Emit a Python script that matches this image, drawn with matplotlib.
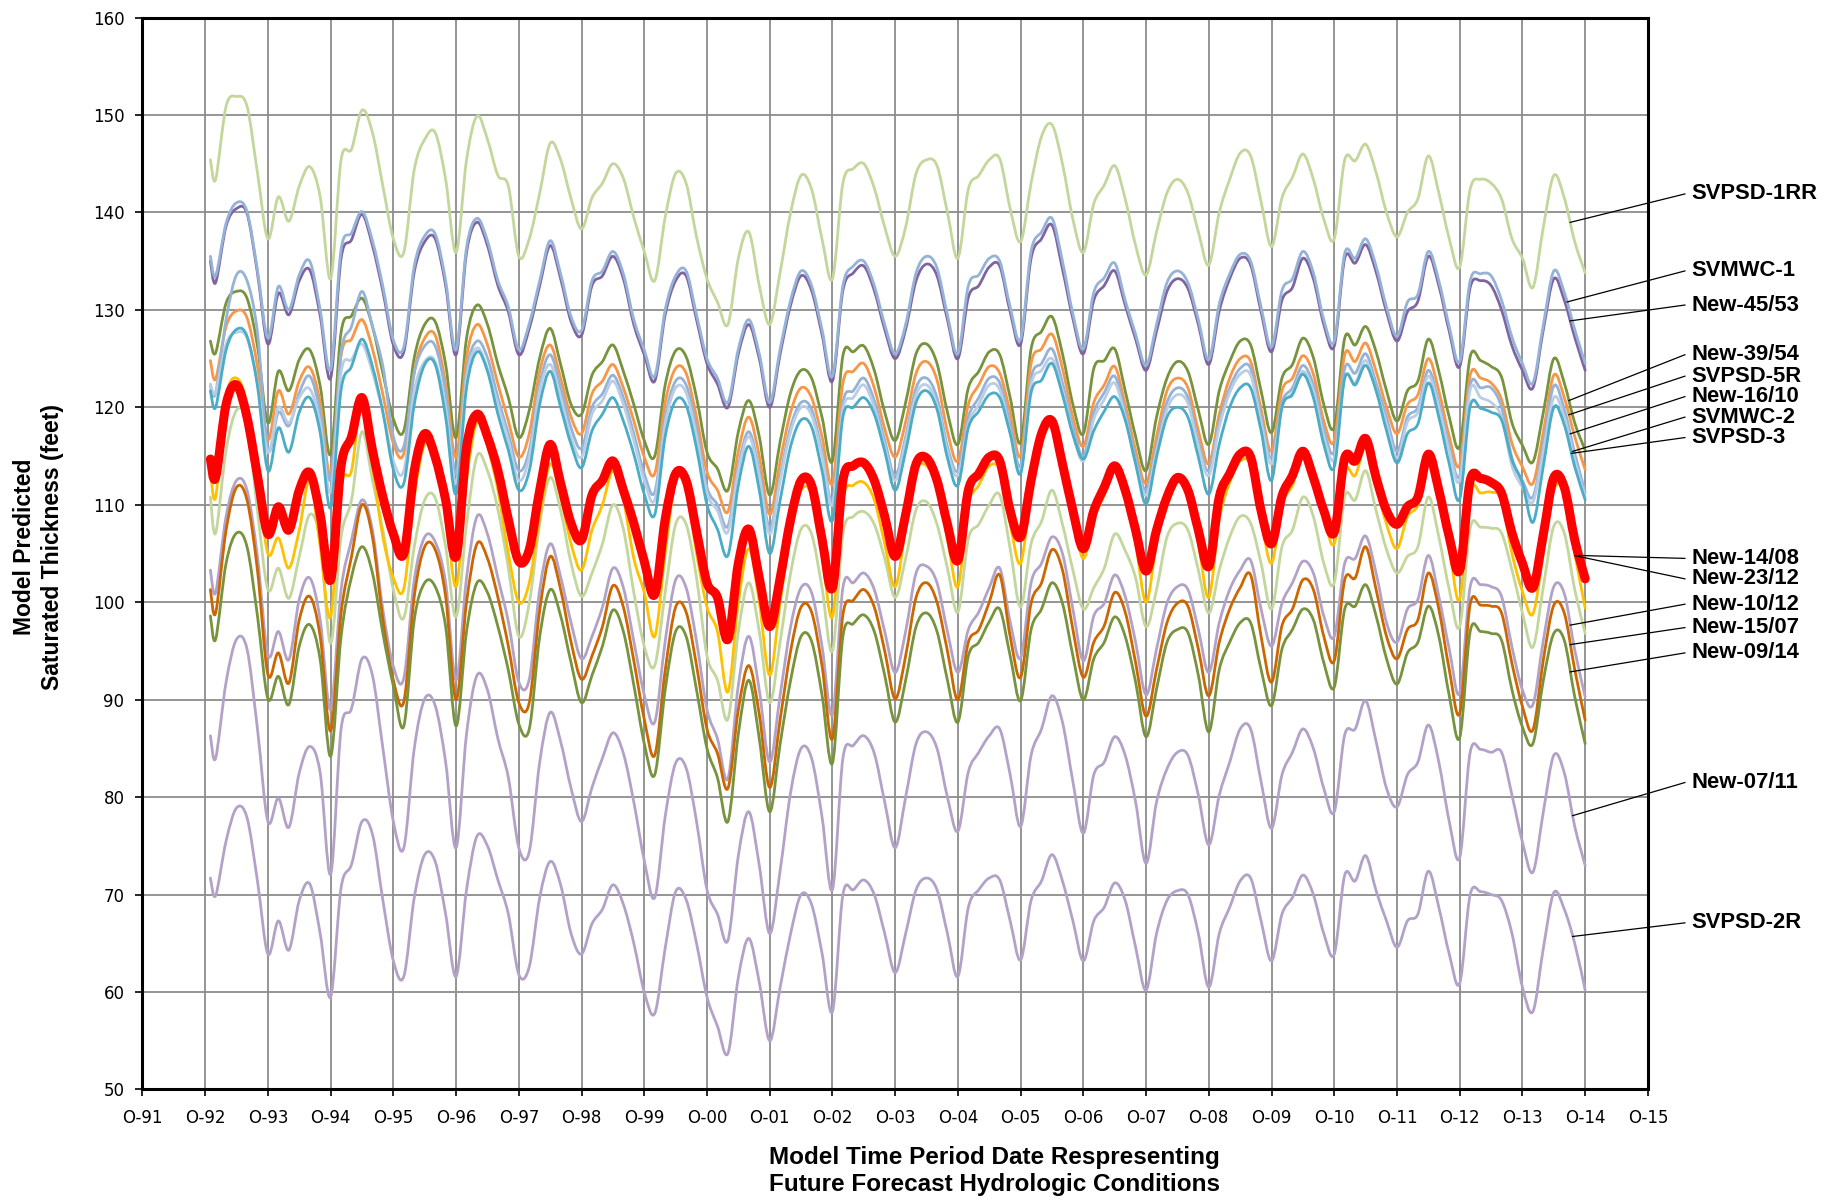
import numpy as np
import matplotlib
matplotlib.use("Agg")
import matplotlib.pyplot as plt
from matplotlib.path import Path
from matplotlib.patches import PathPatch

plt.rcParams['font.family'] = ['Liberation Sans', 'DejaVu Sans']

# Bimonthly model output (Oct, Dec, Feb, Apr, Jun, Aug of each water year 1992-2013, then Oct-14)
svpsd_1rr = [
    145.4, 143.4, 150.9, 151.9, 150.9, 144.1,
    137.3, 141.6, 139.1, 142.7, 144.7, 141.6,
    133.2, 145.4, 146.5, 150.5, 148.2, 142.7,
    137.3, 135.9, 144.4, 147.5, 148.2, 143.4,
    135.9, 145.4, 149.9, 147.5, 143.8, 142.7,
    135.5, 137.3, 142.0, 147.1, 145.4, 141.4,
    138.3, 141.5, 143.0, 145.0, 143.5, 139.5,
    136.0, 133.0, 139.5, 144.0, 143.0, 137.5,
    133.2, 130.8, 128.5, 135.3, 138.0, 132.5,
    128.5, 133.9, 140.0, 143.8, 142.4, 137.3,
    133.2, 143.0, 144.5, 145.0, 142.5, 138.5,
    135.5, 138.5, 144.0, 145.4, 144.8, 140.0,
    135.3, 142.4, 143.8, 145.4, 145.5, 140.4,
    137.0, 143.0, 147.8, 149.0, 145.0, 139.3,
    135.9, 140.9, 142.8, 144.8, 141.4, 136.6,
    133.6, 138.0, 142.0, 143.4, 142.0, 138.0,
    134.6, 140.0, 143.4, 146.1, 145.8, 141.1,
    136.5, 141.5, 143.6, 146.0, 143.4, 139.3,
    137.3, 145.4, 145.3, 147.0, 144.1, 140.0,
    137.5, 140.0, 141.4, 145.8, 142.0, 137.3,
    134.4, 142.4, 143.4, 143.0, 141.4, 137.3,
    135.3, 132.3, 138.5, 143.8, 141.5, 137.0,
    133.8]

new_45_53 = [
    135.0, 132.8, 138.6, 140.4, 139.9, 133.8,
    126.5, 131.7, 129.5, 133.0, 134.1, 129.4,
    123.0, 135.3, 137.2, 139.8, 136.6, 131.9,
    126.4, 125.7, 133.9, 137.0, 137.3, 132.5,
    125.4, 135.9, 139.0, 136.6, 132.5, 129.8,
    125.4, 128.1, 132.5, 136.6, 133.2, 128.8,
    127.4, 132.5, 133.5, 135.5, 133.2, 128.5,
    125.4, 122.7, 129.5, 133.0, 133.5, 129.0,
    124.5, 122.4, 120.0, 125.5, 128.5, 125.0,
    120.0, 125.5, 130.5, 133.5, 132.0, 127.5,
    122.7, 132.0, 133.8, 134.5, 132.0, 128.0,
    125.0, 128.0, 133.0, 134.7, 133.5, 129.0,
    125.0, 131.3, 132.5, 134.4, 134.5, 129.8,
    126.5, 135.3, 137.3, 138.7, 134.2, 129.1,
    125.5, 131.0, 132.5, 134.0, 130.5, 127.0,
    123.8, 127.8, 131.9, 133.2, 132.2, 128.5,
    124.4, 129.9, 133.2, 135.3, 134.6, 129.8,
    125.7, 131.0, 132.3, 135.3, 133.2, 128.5,
    126.3, 135.3, 134.8, 136.7, 133.9, 129.8,
    126.8, 129.8, 130.9, 135.5, 132.5, 127.8,
    124.2, 132.3, 133.0, 132.5, 130.0, 126.3,
    123.8, 122.0, 128.0, 133.2, 131.0, 127.2,
    123.8]

svmwc_1 = [
    135.5, 133.5, 138.9, 141.0, 140.1, 134.1,
    127.1, 132.4, 130.0, 133.6, 135.0, 130.0,
    123.9, 136.2, 137.9, 140.1, 137.1, 132.4,
    126.9, 126.2, 134.5, 137.6, 137.8, 133.0,
    125.9, 136.4, 139.4, 137.1, 133.0, 130.3,
    125.9, 128.6, 133.0, 137.1, 133.7, 129.3,
    127.9, 133.0, 134.0, 136.0, 133.7, 129.0,
    125.9, 123.2, 130.0, 133.5, 134.0, 129.5,
    125.0, 123.0, 120.5, 126.0, 129.0, 125.5,
    120.5, 126.0, 131.0, 134.0, 132.5, 128.0,
    123.2, 132.5, 134.5, 135.0, 132.5, 128.5,
    125.5, 128.5, 133.8, 135.5, 134.3, 129.5,
    125.5, 132.5, 133.6, 135.3, 135.0, 130.3,
    127.0, 136.0, 138.0, 139.4, 135.0, 129.6,
    126.0, 131.8, 133.3, 134.8, 131.0, 127.5,
    124.3, 128.5, 132.8, 134.0, 132.8, 129.0,
    124.9, 130.6, 133.7, 135.7, 135.0, 130.3,
    126.2, 132.0, 133.2, 136.0, 133.8, 129.0,
    126.8, 135.8, 135.3, 137.3, 134.5, 130.3,
    127.3, 130.8, 131.6, 136.0, 133.0, 128.3,
    124.7, 133.0, 133.7, 133.5, 131.0, 127.2,
    124.5, 122.5, 128.5, 134.0, 131.8, 128.0,
    124.5]

new_39_54 = [
    126.8, 125.6, 130.7, 131.9, 131.2, 126.3,
    118.4, 123.7, 121.7, 124.9, 125.9, 122.2,
    115.2, 127.7, 129.4, 131.2, 128.3, 123.5,
    118.8, 117.6, 125.1, 128.5, 128.8, 124.4,
    116.9, 127.1, 130.5, 128.5, 124.4, 121.0,
    116.9, 119.7, 125.1, 128.1, 124.4, 120.3,
    119.3, 123.3, 124.7, 126.4, 123.7, 120.3,
    116.6, 115.0, 122.3, 125.8, 125.2, 121.0,
    115.4, 113.7, 111.5, 117.5, 120.7, 117.0,
    111.0, 116.5, 121.5, 123.8, 123.0, 119.0,
    114.5, 125.3, 125.7, 126.3, 123.8, 119.5,
    116.6, 120.5, 125.5, 126.5, 124.5, 119.5,
    116.2, 122.0, 123.7, 125.7, 125.4, 121.0,
    116.4, 126.0, 127.8, 129.3, 125.5, 120.3,
    117.3, 124.0, 124.8, 126.0, 121.7, 117.0,
    113.5, 119.0, 123.0, 124.7, 123.7, 119.7,
    116.2, 121.7, 124.7, 126.8, 126.4, 121.7,
    117.4, 123.0, 124.4, 127.1, 125.1, 120.3,
    118.0, 127.1, 126.4, 128.3, 125.7, 121.7,
    118.6, 121.7, 122.7, 127.0, 123.7, 119.0,
    116.0, 125.2, 124.8, 124.2, 123.1, 118.4,
    116.1, 114.4, 119.5, 125.0, 122.5, 118.4,
    115.6]

svpsd_5r = [
    124.8, 122.9, 128.3, 129.9, 129.2, 124.2,
    116.7, 121.7, 119.3, 122.7, 124.1, 120.5,
    113.1, 125.3, 127.0, 129.0, 126.0, 121.3,
    116.3, 115.3, 123.7, 127.1, 127.4, 122.4,
    114.9, 125.1, 128.5, 126.4, 122.4, 118.6,
    114.9, 117.3, 123.7, 126.4, 123.0, 119.0,
    117.3, 121.4, 122.7, 124.4, 122.0, 118.6,
    114.9, 113.2, 120.5, 124.0, 123.5, 119.0,
    113.4, 111.5, 109.3, 115.5, 119.0, 115.0,
    109.0, 114.5, 119.5, 122.0, 121.0, 117.0,
    112.2, 122.5, 123.7, 124.5, 122.0, 117.8,
    114.9, 118.5, 123.5, 124.7, 122.8, 117.5,
    114.5, 120.3, 122.3, 124.2, 123.5, 119.5,
    115.0, 124.5, 126.0, 127.5, 124.0, 119.0,
    116.0, 120.5, 122.3, 124.2, 120.3, 115.6,
    112.2, 117.0, 121.7, 123.0, 122.0, 117.6,
    114.2, 119.3, 123.0, 125.0, 124.7, 119.8,
    115.5, 121.7, 123.0, 125.3, 123.4, 118.6,
    116.6, 125.4, 124.7, 126.6, 123.7, 120.0,
    117.3, 120.3, 121.3, 125.0, 121.7, 117.0,
    114.1, 123.3, 123.0, 122.5, 120.8, 116.3,
    113.9, 112.2, 117.5, 123.3, 121.0, 117.0,
    113.6]

new_16_10 = [
    122.2, 121.5, 129.0, 133.6, 133.0, 127.7,
    115.7, 119.5, 118.1, 121.5, 123.2, 119.5,
    112.6, 125.6, 128.3, 131.9, 128.3, 124.2,
    117.0, 116.0, 123.5, 126.3, 126.3, 121.5,
    113.2, 123.7, 126.8, 125.1, 121.0, 117.3,
    113.5, 115.6, 122.4, 125.4, 122.0, 117.9,
    115.8, 120.0, 121.4, 123.3, 121.0, 117.3,
    113.2, 111.3, 119.0, 122.7, 122.3, 117.8,
    111.8, 110.0, 107.8, 114.0, 117.5, 113.5,
    107.6, 113.0, 118.0, 120.5, 119.8, 115.5,
    110.5, 120.5, 121.7, 123.0, 120.7, 116.6,
    113.0, 117.0, 122.0, 123.0, 121.0, 116.0,
    113.5, 119.0, 121.0, 123.0, 122.5, 118.3,
    114.0, 123.0, 124.5, 126.0, 122.5, 118.0,
    115.0, 119.5, 121.5, 123.2, 119.5, 114.8,
    111.5, 116.0, 120.5, 122.0, 121.0, 116.5,
    113.5, 118.5, 122.0, 124.0, 124.0, 119.0,
    114.8, 120.5, 122.0, 124.3, 122.3, 117.7,
    115.5, 124.0, 123.5, 125.5, 122.5, 119.0,
    115.5, 119.0, 120.0, 123.8, 120.5, 116.0,
    113.0, 122.3, 122.0, 122.0, 120.0, 114.8,
    112.5, 110.8, 116.3, 122.2, 119.8, 115.3,
    111.3]

svmwc_2 = [
    122.4, 121.5, 126.5, 127.7, 127.1, 122.5,
    115.4, 120.0, 118.4, 121.0, 121.9, 118.4,
    111.3, 123.6, 124.9, 126.5, 123.6, 119.5,
    114.5, 113.5, 121.7, 124.7, 124.7, 120.0,
    112.2, 123.0, 126.1, 124.0, 120.3, 116.6,
    112.5, 114.9, 121.7, 124.4, 121.0, 116.9,
    114.9, 119.3, 120.7, 122.7, 120.3, 116.6,
    112.5, 110.5, 118.3, 122.0, 121.5, 117.0,
    111.2, 109.4, 107.2, 113.5, 117.0, 113.0,
    107.0, 112.5, 117.5, 120.0, 119.2, 115.0,
    110.0, 119.8, 121.0, 122.3, 120.0, 116.0,
    112.5, 116.5, 121.3, 122.3, 120.3, 115.5,
    113.0, 118.3, 120.3, 122.3, 121.8, 117.5,
    113.5, 122.3, 123.8, 125.0, 121.8, 117.3,
    114.5, 118.8, 120.8, 122.5, 119.0, 114.3,
    111.0, 115.5, 119.8, 121.3, 120.4, 116.0,
    113.0, 118.0, 121.5, 123.4, 123.3, 118.5,
    114.2, 120.0, 121.5, 123.7, 121.7, 117.0,
    114.8, 123.0, 122.5, 124.8, 121.8, 118.3,
    114.8, 118.5, 119.5, 123.2, 120.0, 115.5,
    112.5, 121.8, 121.0, 120.5, 119.0, 114.0,
    111.8, 110.3, 115.5, 121.0, 119.0, 114.6,
    110.8]

svpsd_3 = [
    121.7, 120.0, 125.9, 128.0, 127.3, 122.2,
    113.5, 117.9, 115.4, 119.5, 121.0, 117.4,
    109.7, 121.8, 124.2, 127.0, 124.2, 119.5,
    113.6, 112.2, 120.3, 124.4, 124.4, 119.0,
    111.1, 122.0, 125.7, 123.7, 119.3, 115.6,
    111.5, 113.5, 120.3, 123.7, 120.0, 116.2,
    113.8, 117.6, 119.3, 121.0, 118.6, 115.2,
    111.1, 109.0, 117.0, 120.7, 120.2, 115.8,
    110.0, 107.5, 104.8, 112.0, 116.0, 111.5,
    105.0, 110.5, 116.0, 118.7, 118.0, 113.5,
    108.4, 119.0, 120.0, 121.0, 119.3, 115.5,
    111.5, 115.5, 120.5, 121.7, 119.8, 114.8,
    112.0, 117.9, 119.6, 121.3, 121.0, 117.3,
    113.2, 121.5, 122.8, 124.5, 121.3, 117.2,
    114.7, 117.6, 119.6, 121.1, 118.7, 114.2,
    110.1, 114.9, 119.0, 120.0, 119.0, 114.9,
    111.1, 116.2, 120.0, 122.0, 122.0, 117.6,
    112.5, 120.0, 121.3, 123.4, 121.0, 116.2,
    113.9, 123.0, 122.3, 124.3, 121.7, 117.6,
    114.3, 117.3, 118.3, 122.5, 119.0, 114.2,
    110.6, 120.1, 119.9, 119.5, 118.7, 114.6,
    112.2, 108.2, 114.0, 120.0, 118.2, 113.9,
    110.5]

new_14_08 = [
    114.7, 112.8, 120.3, 122.3, 119.0, 113.0,
    107.0, 109.8, 107.4, 111.5, 113.3, 109.0,
    102.3, 114.0, 117.0, 121.0, 115.6, 110.8,
    107.0, 105.0, 113.5, 117.3, 114.9, 110.5,
    104.7, 115.9, 119.3, 117.0, 113.5, 108.5,
    104.2, 105.4, 111.5, 116.2, 112.2, 108.1,
    106.4, 111.0, 112.5, 114.5, 111.5, 108.1,
    104.2, 100.8, 108.5, 113.2, 112.5, 107.3,
    102.0, 100.5, 96.2, 104.0, 107.5, 102.5,
    97.5, 102.5, 108.5, 112.5, 112.0, 106.5,
    101.5, 112.5, 114.0, 114.3, 112.5, 108.8,
    104.7, 109.0, 114.2, 114.8, 112.5, 108.0,
    104.3, 111.5, 113.2, 114.9, 114.5, 109.4,
    106.7, 112.5, 117.3, 118.6, 114.2, 109.4,
    105.5, 109.4, 111.8, 114.0, 111.5, 107.4,
    103.2, 107.4, 110.8, 112.8, 111.5, 107.4,
    103.7, 110.8, 113.2, 115.2, 114.9, 109.4,
    106.0, 110.9, 113.0, 115.5, 112.8, 109.4,
    107.2, 114.8, 114.5, 116.8, 112.8, 109.4,
    108.0, 109.8, 110.8, 115.2, 111.5, 106.7,
    103.3, 112.5, 112.7, 112.3, 111.2, 107.1,
    104.0, 101.5, 107.0, 112.8, 111.8, 106.4,
    102.4]

new_23_12 = [
    113.5, 110.8, 121.0, 123.0, 120.3, 112.8,
    105.0, 106.6, 103.5, 107.4, 112.5, 105.7,
    98.5, 111.9, 113.5, 121.0, 114.0, 106.7,
    102.5, 101.4, 110.8, 116.2, 114.2, 109.5,
    101.6, 112.5, 118.5, 116.0, 111.5, 105.0,
    100.0, 102.0, 108.8, 114.2, 110.8, 106.0,
    103.3, 107.4, 110.0, 113.5, 110.5, 104.5,
    101.0, 96.5, 105.0, 112.5, 111.5, 105.0,
    99.5, 97.0, 90.8, 100.0, 105.5, 100.0,
    92.5, 100.0, 107.0, 111.5, 111.0, 105.0,
    98.5, 110.5, 112.0, 112.3, 110.5, 106.0,
    101.6, 107.5, 113.5, 114.0, 111.8, 106.5,
    101.6, 110.0, 112.0, 114.0, 113.5, 108.0,
    104.0, 111.5, 116.5, 118.0, 113.8, 108.8,
    104.5, 108.5, 111.0, 113.5, 110.8, 106.0,
    100.0, 106.0, 110.0, 112.3, 111.0, 106.0,
    100.5, 108.5, 112.3, 114.5, 114.0, 108.5,
    104.0, 110.0, 112.0, 115.0, 112.3, 108.8,
    106.0, 113.5, 113.0, 116.0, 112.0, 108.0,
    105.5, 108.8, 110.0, 114.5, 111.0, 105.5,
    100.3, 111.3, 111.2, 111.3, 110.5, 105.0,
    101.1, 98.8, 105.0, 111.5, 111.2, 105.0,
    99.4]

# unlabeled light-green well between New-23/12 and New-10/12
unlabeled_mid = [
    110.8, 107.1, 115.6, 119.7, 118.6, 109.4,
    101.3, 103.5, 100.4, 104.7, 109.0, 106.4,
    95.8, 106.7, 110.5, 117.5, 112.5, 107.4,
    101.3, 98.4, 105.7, 110.5, 110.7, 105.7,
    98.5, 108.0, 115.0, 113.5, 109.5, 103.5,
    96.5, 99.9, 108.1, 112.8, 109.4, 104.0,
    100.6, 103.0, 106.0, 110.0, 107.5, 101.0,
    95.5, 93.5, 101.0, 108.0, 108.0, 102.5,
    94.5, 92.0, 88.0, 97.0, 102.0, 97.0,
    89.7, 96.0, 103.0, 107.5, 107.0, 101.5,
    95.0, 107.0, 108.8, 109.3, 108.0, 104.5,
    100.5, 104.5, 109.5, 110.3, 108.0, 103.5,
    99.0, 106.5, 108.0, 110.0, 111.0, 105.5,
    99.5, 106.0, 108.3, 111.5, 108.0, 103.3,
    99.3, 101.5, 103.5, 107.0, 105.3, 102.5,
    97.5, 101.3, 106.7, 108.1, 107.4, 103.3,
    98.9, 103.3, 106.7, 108.8, 108.1, 104.0,
    99.3, 105.7, 107.4, 110.8, 108.8, 104.0,
    102.0, 110.8, 110.5, 113.5, 109.4, 105.4,
    103.0, 104.7, 105.7, 110.8, 106.7, 101.3,
    97.5, 107.6, 107.7, 107.6, 107.1, 103.3,
    98.9, 95.4, 101.6, 107.8, 107.1, 101.3,
    96.8]

new_10_12 = [
    103.3, 101.0, 108.8, 112.5, 111.5, 104.7,
    94.6, 97.0, 94.1, 100.3, 102.5, 98.2,
    89.0, 101.3, 106.4, 110.5, 107.4, 99.2,
    93.4, 92.2, 102.3, 106.7, 106.2, 102.0,
    92.0, 102.5, 108.8, 107.0, 102.5, 98.0,
    91.8, 92.1, 101.3, 106.0, 102.6, 97.9,
    94.2, 96.5, 99.5, 103.5, 101.5, 96.0,
    90.5, 87.7, 96.0, 102.3, 101.5, 96.0,
    89.0, 86.0, 81.9, 91.5, 96.5, 91.0,
    83.6, 90.5, 97.5, 101.5, 101.0, 95.5,
    88.5, 101.5, 102.0, 103.0, 101.3, 97.0,
    92.8, 97.0, 103.0, 103.7, 102.0, 97.0,
    92.8, 97.2, 99.0, 101.5, 103.5, 98.0,
    94.3, 102.0, 104.0, 106.7, 105.0, 99.3,
    94.0, 98.6, 99.9, 102.8, 100.6, 95.9,
    90.5, 95.2, 99.9, 101.6, 101.3, 97.2,
    92.8, 97.9, 101.3, 103.3, 104.3, 99.3,
    95.5, 99.9, 102.0, 104.2, 103.0, 98.6,
    96.5, 104.0, 104.5, 106.8, 103.0, 97.9,
    95.9, 99.3, 100.3, 104.8, 100.6, 95.2,
    90.7, 101.6, 101.8, 101.6, 100.6, 95.4,
    91.0, 89.5, 96.1, 101.6, 100.9, 95.1,
    90.3]

new_15_07 = [
    101.3, 98.9, 107.4, 111.8, 110.5, 103.3,
    92.6, 94.8, 91.7, 98.2, 100.6, 96.5,
    86.8, 98.9, 104.7, 110.0, 106.7, 98.2,
    92.0, 89.8, 100.6, 105.7, 105.4, 100.6,
    90.0, 100.0, 106.0, 104.5, 100.5, 95.5,
    89.7, 89.7, 99.2, 104.7, 101.3, 95.9,
    92.1, 94.5, 97.5, 101.7, 99.5, 94.0,
    88.0, 84.3, 93.0, 99.5, 99.0, 93.5,
    87.0, 84.5, 80.9, 89.0, 93.5, 88.5,
    81.0, 88.0, 95.0, 99.5, 99.0, 93.5,
    86.0, 98.7, 100.2, 101.3, 99.5, 95.0,
    90.1, 94.5, 100.5, 102.0, 100.0, 95.0,
    90.0, 95.9, 97.2, 100.0, 102.8, 96.5,
    92.3, 99.9, 102.0, 105.4, 103.3, 97.2,
    92.3, 95.9, 97.6, 101.0, 99.0, 93.8,
    88.3, 93.1, 97.9, 99.9, 99.6, 95.2,
    90.4, 95.9, 99.3, 101.5, 102.8, 96.5,
    91.8, 97.6, 99.3, 102.3, 101.3, 96.5,
    94.0, 102.3, 102.5, 105.7, 101.3, 96.5,
    94.2, 97.2, 98.2, 103.0, 99.3, 93.1,
    88.6, 99.8, 99.7, 99.6, 98.9, 93.7,
    89.3, 86.9, 94.1, 99.7, 98.9, 93.1,
    87.9]

new_09_14 = [
    98.6, 96.2, 104.0, 107.1, 105.7, 98.6,
    90.1, 92.4, 89.5, 95.5, 97.7, 94.1,
    84.2, 96.5, 102.6, 105.7, 103.0, 96.8,
    91.4, 87.3, 98.2, 102.0, 101.6, 97.5,
    87.3, 97.0, 102.0, 101.0, 97.5, 93.0,
    87.5, 87.0, 96.5, 101.3, 98.6, 93.8,
    89.7, 92.5, 95.5, 99.2, 97.0, 91.5,
    85.5, 82.3, 91.0, 97.0, 96.5, 91.0,
    85.0, 82.0, 77.5, 86.5, 92.0, 86.0,
    78.5, 85.5, 92.0, 96.5, 96.0, 90.5,
    83.5, 96.5, 97.8, 98.7, 97.0, 92.5,
    87.7, 92.0, 97.5, 98.9, 97.0, 92.0,
    87.7, 94.5, 95.9, 98.0, 99.3, 94.5,
    89.9, 97.2, 99.3, 102.0, 99.9, 94.5,
    90.0, 94.2, 95.9, 98.5, 96.5, 91.8,
    86.2, 91.1, 95.9, 97.2, 96.9, 92.5,
    86.7, 93.1, 95.9, 97.9, 97.9, 93.1,
    89.4, 95.2, 97.2, 99.3, 98.2, 93.8,
    91.3, 99.3, 99.6, 101.8, 98.6, 94.2,
    91.6, 94.8, 95.9, 99.6, 96.5, 90.4,
    86.1, 97.0, 97.0, 96.8, 96.1, 91.0,
    87.2, 85.5, 92.0, 96.8, 96.1, 90.3,
    85.5]

new_07_11 = [
    86.3, 84.0, 91.8, 96.2, 95.2, 87.0,
    77.5, 79.9, 76.9, 82.5, 85.2, 82.5,
    72.1, 87.0, 89.1, 94.2, 92.5, 85.0,
    77.5, 74.8, 85.0, 90.1, 89.4, 83.6,
    74.8, 86.5, 92.5, 91.0, 86.0, 82.0,
    74.8, 74.4, 83.6, 88.7, 85.7, 80.9,
    77.5, 81.0, 84.0, 86.6, 84.5, 79.5,
    73.5, 69.7, 78.0, 83.5, 83.0, 77.5,
    70.5, 68.0, 65.3, 74.0, 78.5, 73.0,
    66.0, 72.5, 80.5, 85.0, 84.0, 78.0,
    70.5, 84.0, 85.3, 86.3, 84.5, 79.5,
    74.8, 80.0, 85.5, 86.7, 85.0, 80.0,
    76.5, 82.6, 84.6, 86.3, 87.0, 82.3,
    77.0, 84.3, 87.0, 90.4, 87.7, 81.6,
    76.3, 82.3, 83.6, 86.2, 84.3, 79.5,
    73.2, 79.5, 82.9, 84.6, 84.3, 80.2,
    75.1, 80.2, 83.6, 87.0, 87.0, 81.6,
    76.8, 82.3, 84.6, 87.0, 85.0, 80.9,
    78.5, 86.4, 87.0, 89.9, 85.7, 80.9,
    79.0, 82.3, 83.6, 87.4, 83.6, 77.5,
    73.8, 84.6, 84.9, 84.6, 84.6, 80.2,
    75.4, 72.3, 78.5, 84.3, 82.5, 77.0,
    73.0]

svpsd_2r = [
    71.7, 69.9, 75.5, 78.9, 77.9, 71.4,
    63.9, 67.3, 64.3, 69.4, 71.1, 66.0,
    59.5, 70.7, 73.1, 77.5, 76.2, 69.4,
    63.2, 61.6, 69.7, 74.1, 73.4, 68.0,
    61.6, 70.5, 76.0, 75.0, 71.5, 68.0,
    61.8, 62.6, 69.7, 73.4, 71.0, 66.0,
    63.9, 67.0, 68.5, 71.0, 69.0, 65.0,
    60.0, 57.8, 64.5, 70.3, 69.5, 65.0,
    59.5, 56.5, 53.7, 61.5, 65.5, 61.0,
    55.0, 60.5, 66.0, 70.0, 69.0, 64.0,
    58.0, 70.0, 70.5, 71.5, 70.0, 66.0,
    62.0, 66.0, 70.5, 71.7, 70.5, 66.0,
    61.6, 68.7, 70.5, 71.7, 71.5, 67.3,
    63.3, 69.4, 71.4, 74.1, 71.4, 67.3,
    63.2, 67.3, 68.7, 71.2, 69.4, 64.6,
    60.2, 66.0, 69.4, 70.4, 70.0, 66.0,
    60.5, 66.0, 68.7, 71.4, 71.7, 67.3,
    63.2, 68.0, 69.7, 72.0, 70.0, 66.0,
    63.9, 72.0, 71.4, 74.0, 70.4, 67.3,
    64.6, 67.3, 68.0, 72.4, 68.7, 63.9,
    60.9, 70.0, 70.3, 70.0, 69.4, 66.0,
    60.5, 58.0, 64.5, 70.2, 68.5, 65.0,
    60.2]

year_ticks = list(range(1991, 2016))
tick_labels = [f"O-{y % 100:02d}" for y in year_ticks]

# time axis in water years (x = 1992 means October 1992); first output is November 1992
n = len(new_14_08)
t = 1992 + np.arange(n) / 6.0
t[0] = 1992 + 1 / 12.0

# (data, colour, width, zorder)
series = [
    (svpsd_1rr, '#c3d69b', 2.0, 2),
    (new_45_53, '#8064a2', 2.0, 3),
    (svmwc_1, '#95b3d7', 2.0, 3),
    (new_39_54, '#77933c', 2.0, 3),
    (svpsd_5r, '#f79646', 2.0, 3),
    (new_16_10, '#95b3d7', 2.0, 3),
    (svmwc_2, '#b9cde5', 2.0, 3),
    (svpsd_3, '#4bacc6', 2.0, 3),
    (unlabeled_mid, '#c3d69b', 2.0, 2),
    (new_23_12, '#ffc000', 2.0, 3),
    (new_10_12, '#b3a2c7', 2.0, 3),
    (new_15_07, '#cc6600', 2.0, 3),
    (new_09_14, '#77933c', 2.0, 3),
    (new_07_11, '#b3a2c7', 2.0, 3),
    (svpsd_2r, '#b3a2c7', 2.0, 3),
    (new_14_08, '#ff0000', 6.5, 5),
]

# label text, series, where the leader touches the line (x), label centre (y)
labels = [
    ("SVPSD-1RR", svpsd_1rr, 2013.76, 141.9),
    ("SVMWC-1", svmwc_1, 2013.71, 134.0),
    ("New-45/53", new_45_53, 2013.76, 130.5),
    ("New-39/54", new_39_54, 2013.74, 125.4),
    ("SVPSD-5R", svpsd_5r, 2013.74, 123.2),
    ("New-16/10", new_16_10, 2013.76, 121.1),
    ("SVMWC-2", svmwc_2, 2013.80, 119.0),
    ("SVPSD-3", svpsd_3, 2013.78, 116.9),
    ("New-14/08", new_14_08, 2013.90, 104.5),
    ("New-23/12", new_23_12, 2013.84, 102.4),
    ("New-10/12", new_10_12, 2013.76, 99.8),
    ("New-15/07", new_15_07, 2013.76, 97.4),
    ("New-09/14", new_09_14, 2013.76, 94.8),
    ("New-07/11", new_07_11, 2013.80, 81.5),
    ("SVPSD-2R", svpsd_2r, 2013.80, 67.1),
]


def smooth_path(x, y):
    """Smoothed polyline through every point (Catmull-Rom style cubic Beziers)."""
    p = np.column_stack([np.asarray(x, float), np.asarray(y, float)])
    pe = np.vstack([p[0], p, p[-1]])
    verts = [p[0]]
    codes = [Path.MOVETO]
    for i in range(len(p) - 1):
        p0, p1, p2, p3 = pe[i], pe[i + 1], pe[i + 2], pe[i + 3]
        verts += [p1 + (p2 - p0) / 6.0, p2 - (p3 - p1) / 6.0, p2]
        codes += [Path.CURVE4] * 3
    return Path(verts, codes)


fig = plt.figure(figsize=(18.31, 12.02), dpi=100)
ax = fig.add_axes([0.0778, 0.0936, 0.8222, 0.8918])

for data, color, lw, z in series:
    ax.add_patch(PathPatch(smooth_path(t, data), fill=False, edgecolor=color, lw=lw,
                           zorder=z, joinstyle='round', capstyle='round'))

ax.set_xlim(1991, 2015)
ax.set_ylim(50, 160)
ax.set_xticks(year_ticks)
ax.set_xticklabels(tick_labels)
ax.set_yticks(np.arange(50, 161, 10))
ax.grid(True, color='#8c8c8c', lw=1.3, zorder=0)
ax.set_axisbelow(True)
ax.tick_params(axis='both', length=5, width=1.2, direction='out', colors='black',
               labelsize=12, labelfontfamily='DejaVu Sans')
ax.tick_params(axis='x', pad=9)
ax.tick_params(axis='y', pad=8)
for side in ['left', 'right', 'top', 'bottom']:
    ax.spines[side].set_color('black')
    ax.spines[side].set_linewidth(2.2)
    ax.spines[side].set_zorder(6)

# leader lines and right-hand well names
label_x = 2015.69
line_end_x = 2015.59
for text, data, anchor_x, ly in labels:
    y_on_line = float(np.interp(anchor_x, t, data))
    ax.plot([anchor_x, line_end_x], [y_on_line, ly], color='black', lw=0.9,
            clip_on=False, zorder=7)
    ax.text(label_x, ly, text, fontsize=15.8, fontweight='bold', ha='left',
            va='center', clip_on=False)

fig.text(0.021, 0.545, "Model Predicted\nSaturated Thickness (feet)", rotation=90,
         ha='center', va='center', fontsize=16.5, fontweight='bold', linespacing=1.25)
fig.text(0.543, 0.026, "Model Time Period Date Respresenting\nFuture Forecast Hydrologic Conditions",
         ha='center', va='center', fontsize=17.5, fontweight='bold', linespacing=1.2)

fig.savefig("out.png", dpi=100)
